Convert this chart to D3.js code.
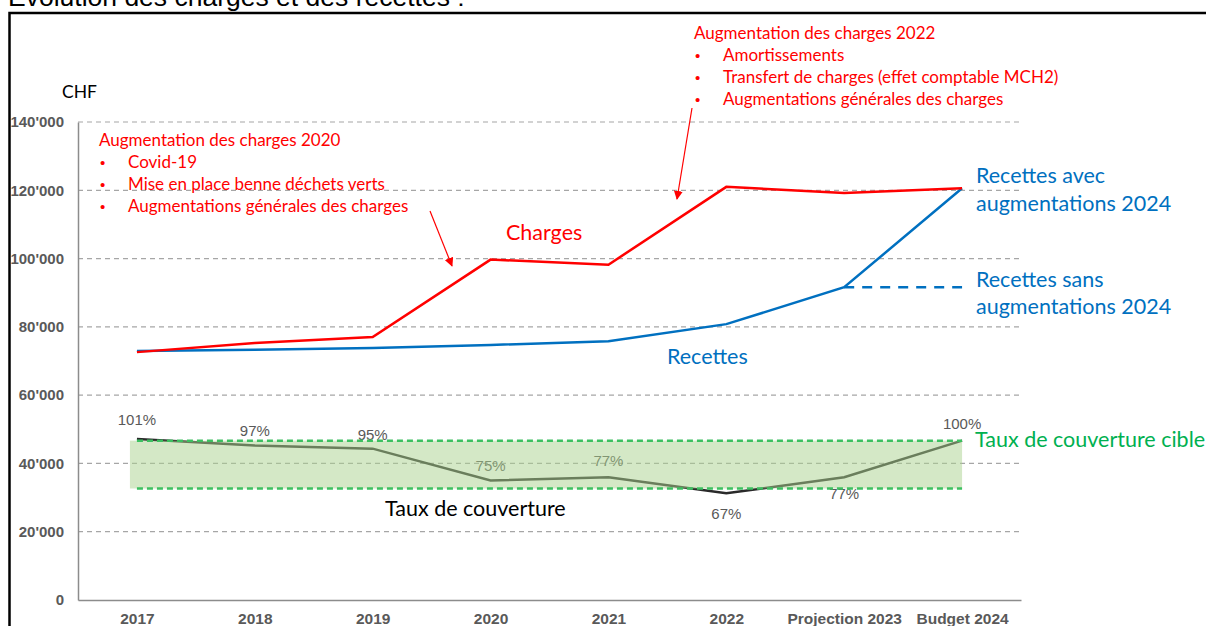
<!DOCTYPE html>
<html>
<head>
<meta charset="utf-8">
<script src="https://cdn.jsdelivr.net/npm/d3@7"></script>
<style>
  body { margin: 0; background: #fff; overflow: hidden; }
  svg { display: block; }
</style>
</head>
<body>
<main></main>
<script>
const sizeOfSVG = { width: 1206, height: 626 };

// data
const years = ['2017', '2018', '2019', '2020', '2021', '2022', 'Projection 2023', 'Budget 2024'];
const charges = [72600, 75300, 77000, 99700, 98200, 121000, 119200, 120600];
const recettes = [72900, 73300, 73800, 74700, 75800, 80800, 91600, 120600];
const recettesSans = [91600, 91600]; // Projection 2023 -> Budget 2024, sans augmentations
const couverture = [101, 97, 95, 75, 77, 67, 77, 100];
const couvLabels = ['101%', '97%', '95%', '75%', '77%', '67%', '77%', '100%'];
const cible = [70, 100];
const yTicks = [0, 20000, 40000, 60000, 80000, 100000, 120000, 140000];

const note2020 = ['Augmentation des charges 2020', 'Covid-19', 'Mise en place benne déchets verts', 'Augmentations générales des charges'];
const note2022 = ['Augmentation des charges 2022', 'Amortissements', 'Transfert de charges (effet comptable MCH2)', 'Augmentations générales des charges'];

const RED = '#ff0000', BLUE = '#0070c0', GREEN = '#00b050';
const calibri = 'Lato, "Open Sans", sans-serif';
const arial = '"Liberation Sans", Arial, sans-serif';

const svg = d3.select('main').append('svg')
  .attr('width', sizeOfSVG.width)
  .attr('height', sizeOfSVG.height);

// title (cut off at the top, as in the source)
svg.append('text')
  .attr('x', 8).attr('y', 6)
  .attr('font-family', arial).attr('font-size', 26.5)
  .attr('fill', '#000')
  .text('Evolution des charges et des recettes :');

// frame
svg.append('rect')
  .attr('x', 9.5).attr('y', 13).attr('width', 1220).attr('height', 640)
  .attr('fill', 'none').attr('stroke', '#000').attr('stroke-width', 2.5);

const xScale = d3.scalePoint().domain(years).range([78, 1021]).padding(0.5);
const yScale = d3.scaleLinear().domain([0, 140000]).range([600, 122]);
const yPct = d3.scaleLinear().domain([0, 300]).range([600, 122]);

// gridlines
svg.append('g').selectAll('line')
  .data(yTicks.filter(d => d > 0))
  .join('line')
  .attr('x1', 78).attr('x2', 1022)
  .attr('y1', d => yScale(d)).attr('y2', d => yScale(d))
  .attr('stroke', '#a6a6a6').attr('stroke-width', 1.2)
  .attr('stroke-dasharray', '5,4');

// axes
const yAxis = svg.append('g')
  .attr('transform', 'translate(78,0)')
  .call(d3.axisLeft(yScale).tickValues(yTicks).tickSize(0).tickPadding(14)
    .tickFormat(d => d === 0 ? '0' : d3.format(',')(d).replace(/,/g, "'")));
yAxis.select('.domain').attr('stroke', '#8c8c8c').attr('stroke-width', 1.5);
yAxis.selectAll('text')
  .attr('font-family', arial).attr('font-size', 15).attr('font-weight', 'bold')
  .attr('fill', '#595959');

const xAxis = svg.append('g')
  .attr('transform', 'translate(0,600)')
  .call(d3.axisBottom(xScale).tickSize(0).tickPadding(13));
xAxis.select('.domain').attr('stroke', '#8c8c8c').attr('stroke-width', 1.5);
xAxis.selectAll('text')
  .attr('font-family', arial).attr('font-size', 15.5).attr('font-weight', 'bold')
  .attr('fill', '#595959');

svg.append('text')
  .attr('x', 62).attr('y', 98)
  .attr('font-family', calibri).attr('font-size', 17.5).attr('fill', '#000')
  .text('CHF');

const line = d3.line().x((d, i) => xScale(years[i])).y(d => yScale(d));

svg.append('path')
  .datum(recettes)
  .attr('d', line)
  .attr('fill', 'none').attr('stroke', BLUE).attr('stroke-width', 2.5);

svg.append('path')
  .datum(charges)
  .attr('d', line)
  .attr('fill', 'none').attr('stroke', RED).attr('stroke-width', 2.5);

svg.append('line')
  .attr('x1', xScale(years[6])).attr('x2', xScale(years[7]))
  .attr('y1', yScale(recettesSans[0])).attr('y2', yScale(recettesSans[1]))
  .attr('stroke', BLUE).attr('stroke-width', 2.5).attr('stroke-dasharray', '10,8');

// coverage line
svg.append('path')
  .datum(couverture)
  .attr('d', d3.line().x((d, i) => xScale(years[i])).y(d => yPct(d)))
  .attr('fill', 'none').attr('stroke', '#2a2a2a').attr('stroke-width', 2.5);

// coverage labels
const labelOffsets = [-18, -13, -13, -13, -15, 22, 18, -16];
svg.append('g').selectAll('text')
  .data(couverture)
  .join('text')
  .attr('x', (d, i) => xScale(years[i]))
  .attr('y', (d, i) => yPct(d) + labelOffsets[i])
  .attr('text-anchor', 'middle')
  .attr('dominant-baseline', 'middle')
  .attr('font-family', arial).attr('font-size', 15).attr('fill', '#595959')
  .text((d, i) => couvLabels[i]);

// target band, on top with transparency
svg.append('rect')
  .attr('x', xScale(years[0]) - 7).attr('width', xScale(years[7]) - xScale(years[0]) + 7)
  .attr('y', yPct(cible[1])).attr('height', yPct(cible[0]) - yPct(cible[1]))
  .attr('fill', '#a9d18e').attr('opacity', 0.5);

svg.append('g').selectAll('line')
  .data(cible)
  .join('line')
  .attr('x1', xScale(years[0])).attr('x2', xScale(years[7]))
  .attr('y1', d => yPct(d)).attr('y2', d => yPct(d))
  .attr('stroke', '#3cc060').attr('stroke-width', 2.5).attr('stroke-dasharray', '6,4');

// series labels
const label = (x, y, txt, color, size) => svg.append('text')
  .attr('x', x).attr('y', y + 2).attr('dominant-baseline', 'middle')
  .attr('font-family', calibri).attr('font-size', size).attr('fill', color).text(txt);

label(506, 233, 'Charges', RED, 21.5);
label(667, 357, 'Recettes', BLUE, 21.5);
label(976, 176, 'Recettes avec', BLUE, 21.5);
label(976, 204, 'augmentations 2024', BLUE, 21.5);
label(976, 280, 'Recettes sans', BLUE, 21.5);
label(976, 307, 'augmentations 2024', BLUE, 21.5);
label(975, 440, 'Taux de couverture cible', GREEN, 21.5);
label(385, 509, 'Taux de couverture', '#000', 21.5);

// red annotations
const note = (x, y, lines) => {
  const g = svg.append('g');
  lines.forEach((t, i) => {
    const yy = y + 2 + i * 22;
    if (i > 0) {
      g.append('text').attr('x', x + 1).attr('y', yy).attr('dominant-baseline', 'middle')
        .attr('font-family', arial).attr('font-size', 15).attr('fill', RED).text('•');
    }
    g.append('text').attr('x', i === 0 ? x : x + 29).attr('y', yy).attr('dominant-baseline', 'middle')
      .attr('font-family', calibri).attr('font-size', 17).attr('fill', RED).text(t);
  });
};
note(99, 140, note2020);
note(694, 33, note2022);

svg.append('defs').append('marker')
  .attr('id', 'arrow').attr('viewBox', '0 0 10 10')
  .attr('refX', 9).attr('refY', 5)
  .attr('markerWidth', 9).attr('markerHeight', 9)
  .attr('markerUnits', 'userSpaceOnUse')
  .attr('orient', 'auto')
  .append('path').attr('d', 'M0,0 L10,5 L0,10 z').attr('fill', RED);

svg.append('line')
  .attr('x1', 430).attr('y1', 211).attr('x2', 452).attr('y2', 266)
  .attr('stroke', RED).attr('stroke-width', 1.2).attr('marker-end', 'url(#arrow)');
svg.append('line')
  .attr('x1', 692).attr('y1', 108).attr('x2', 677).attr('y2', 199)
  .attr('stroke', RED).attr('stroke-width', 1.2).attr('marker-end', 'url(#arrow)');
</script>
</body>
</html>
